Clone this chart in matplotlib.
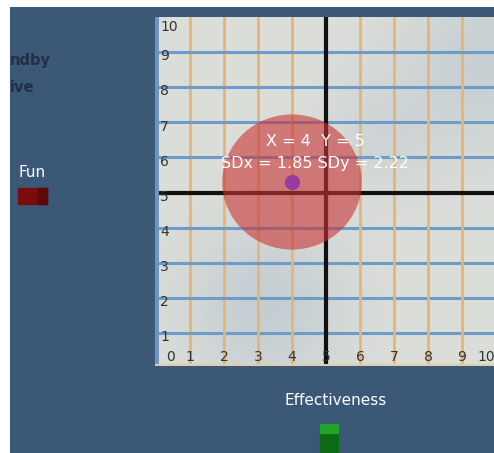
import numpy as np
import matplotlib.pyplot as plt
from matplotlib.patches import Ellipse, Rectangle

# values shown in the scene
ticks = [0, 1, 2, 3, 4, 5, 6, 7, 8, 9, 10]
mean_x, mean_y = 4, 5
sd_x, sd_y = 1.85, 2.22
# where the marker and the spread disc sit on the grid
dot_x, dot_y = 4.0, 5.3
disc_w, disc_h = 4.1, 3.85

W, H = 494, 453
fig = plt.figure(figsize=(W / 100, H / 100), dpi=100)
fig.patch.set_facecolor('white')

# dark blue scene background (white strip on left and top)
bg = fig.add_axes([10 / W, 0, 1 - 10 / W, 1 - 7 / H])
bg.set_facecolor('#3c5877')
bg.set_xlim(10, W)
bg.set_ylim(H, 7)
bg.set_xticks([])
bg.set_yticks([])
for s in bg.spines.values():
    s.set_visible(False)

bg.text(10, 60, 'ndby', color='#1f3048', fontsize=10.5, fontweight='bold', va='center', ha='left')
bg.text(10, 87, 'ive', color='#1f3048', fontsize=10.5, fontweight='bold', va='center', ha='left')
bg.text(32, 172, 'Fun', color='white', fontsize=11, va='center', ha='center')
bg.add_patch(Rectangle((18, 188), 29, 16, color='#7a0c0c'))
bg.add_patch(Rectangle((38, 188), 9, 16, color='#5e0808'))
bg.text(336, 400, 'Effectiveness', color='white', fontsize=11, va='center', ha='center')
bg.add_patch(Rectangle((320, 425), 18, 28, color='#0b6a12'))
bg.add_patch(Rectangle((320, 424), 18, 9, color='#1fa52a'))

# the grid board
px0, py0, sx, sy = 156, 368, 34.0, 35.1
left, right, top, bottom = 155, W, 17, 366
ax = fig.add_axes([left / W, 1 - bottom / H, (right - left) / W, (bottom - top) / H])
ax.set_xlim((left - px0) / sx, (right - px0) / sx)
ax.set_ylim((py0 - bottom) / sy, (py0 - top) / sy)

# soft shading on the board
gx, gy = np.meshgrid(np.linspace(0, 10, 200), np.linspace(0, 10, 200))
shade = (0.40 * np.exp(-((gx - 3.2) ** 2 + (gy - 1.8) ** 2) / 5.0)
         + 0.35 * np.exp(-((gx - 9.5) ** 2 + (gy - 8.5) ** 2) / 6.0)
         + 0.20 * np.exp(-((gx - 6.5) ** 2 + (gy - 6.5) ** 2) / 2.5))
light = np.array([0.86, 0.87, 0.85])
blue = np.array([0.64, 0.71, 0.79])
img = light[None, None, :] * (1 - shade[..., None]) + blue[None, None, :] * shade[..., None]
ax.imshow(img, extent=[-0.1, 10.2, -0.1, 10.2], origin='lower', aspect='auto', zorder=0)

for v in ticks[1:-1]:
    ax.axvline(v, color='#e6b475', lw=2, zorder=1)
    ax.axhline(v, color='#6d9cc9', lw=2.2, zorder=1)
ax.axvline(5, color='#111111', lw=3, zorder=2)
ax.axhline(5, color='#111111', lw=3, zorder=2)

ax.add_patch(Ellipse((dot_x, dot_y), disc_w, disc_h, facecolor='#c93535', alpha=0.6,
                     edgecolor='none', zorder=3))
ax.plot(dot_x, dot_y, 'o', color='#9a3c9e', ms=10, zorder=4)

ax.text(4.68, 6.44, f'X = {mean_x}  Y = {mean_y}', color='white', fontsize=11.5,
        ha='center', va='center', zorder=5)
ax.text(4.68, 5.84, f'SDx = {sd_x:.2f} SDy = {sd_y:.2f}', color='white', fontsize=11.5,
        ha='center', va='center', zorder=5)

# tick numbers painted on the board
for v in ticks[1:]:
    yy = v - 0.12 if v < 10 else 9.72
    ax.text(0.12, yy, str(v), color='#333333', fontsize=10, ha='left', va='center', zorder=5)
for v in ticks:
    xx = 0.42 if v == 0 else (9.7 if v == 10 else v)
    ax.text(xx, 0.32, str(v), color='#333333', fontsize=10, ha='center', va='center', zorder=5)

ax.set_xticks([])
ax.set_yticks([])
for s in ax.spines.values():
    s.set_visible(False)
ax.axvline(ax.get_xlim()[0], color='#6f95bd', lw=5, zorder=6)
ax.axhline(ax.get_ylim()[0], color='#e0cfa8', lw=3, zorder=6)

fig.savefig('out.png', dpi=100)
